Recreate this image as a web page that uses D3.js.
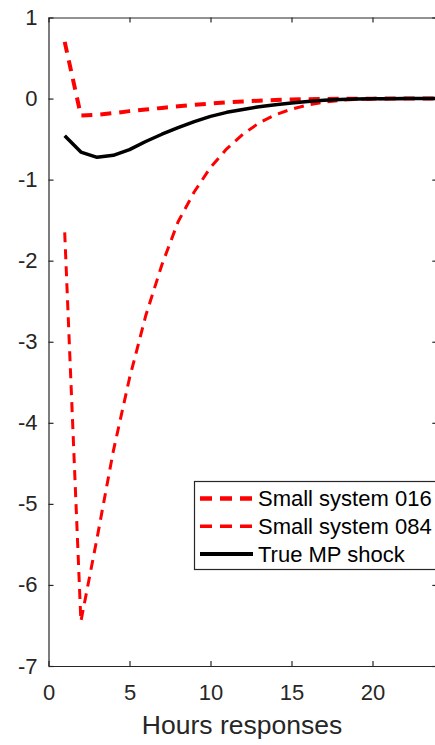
<!DOCTYPE html>
<html>
<head>
<meta charset="utf-8">
<script src="https://cdn.jsdelivr.net/npm/d3@7"></script>
<style>
  body { margin: 0; background: #fff; }
  svg { display: block; font-family: "Liberation Sans", Arial, sans-serif; }
  .axis path, .axis line { stroke: #262626; stroke-width: 1.2; }
  .axis text { fill: #262626; font-size: 22px; }
</style>
</head>
<body>
<svg width="435" height="745"></svg>
<script>
// hours after the shock
const hours = d3.range(1, 25);

// impulse responses
const small016 = [0.70, -0.21, -0.20, -0.18, -0.155, -0.135, -0.115, -0.095, -0.078, -0.062,
  -0.048, -0.036, -0.026, -0.018, -0.012, -0.008, -0.005, -0.003, -0.002, -0.001, 0, 0, 0, 0];
const small084 = [-1.65, -6.45, -5.42, -4.35, -3.45, -2.68, -2.05, -1.52, -1.15, -0.85,
  -0.62, -0.44, -0.30, -0.20, -0.13, -0.08, -0.045, -0.022, -0.01, -0.004, -0.002, -0.001, 0, 0];
const trueShock = [-0.46, -0.66, -0.725, -0.70, -0.63, -0.53, -0.44, -0.36, -0.285, -0.22,
  -0.17, -0.135, -0.10, -0.075, -0.055, -0.035, -0.022, -0.012, -0.006, -0.003, -0.001, 0, 0, 0];

const xTicks = [0, 5, 10, 15, 20];
const yTicks = [1, 0, -1, -2, -3, -4, -5, -6, -7];

const series = [
  { name: "Small system 016", values: small016, color: "#ff0000", width: 4, dash: "11,8" },
  { name: "Small system 084", values: small084, color: "#ff0000", width: 3, dash: "10,7" },
  { name: "True MP shock", values: trueShock, color: "#000000", width: 3.5, dash: null }
];

const margin = { left: 48.5, top: 17.5, right: 435, bottom: 666 };

const svg = d3.select("svg");

const x = d3.scaleLinear().domain([0, 24]).range([margin.left, 437.3]);
const y = d3.scaleLinear().domain([-7, 1]).range([margin.bottom, margin.top]);

// plain hyphen minus like the original
const fmt = d => String(d);

// axes, ticks pointing inward
svg.append("g")
  .attr("class", "axis")
  .attr("transform", `translate(0,${margin.bottom})`)
  .call(d3.axisBottom(x).tickValues(xTicks).tickFormat(fmt).tickSizeInner(-5).tickSizeOuter(0).tickPadding(18))
  .call(g => g.selectAll("text").attr("font-size", 22));

svg.append("g")
  .attr("class", "axis")
  .attr("transform", `translate(0,${margin.top})`)
  .call(d3.axisTop(x).tickValues(xTicks).tickSizeInner(-5).tickSizeOuter(0).tickFormat(""));

svg.append("g")
  .attr("class", "axis")
  .attr("transform", `translate(${margin.left},0)`)
  .call(d3.axisLeft(y).tickValues(yTicks).tickFormat(fmt).tickSizeInner(-5).tickSizeOuter(0).tickPadding(11))
  .call(g => g.selectAll("text").attr("font-size", 22));

svg.append("g")
  .attr("class", "axis")
  .attr("transform", `translate(${x(24)},0)`)
  .call(d3.axisRight(y).tickValues(yTicks).tickSizeInner(-5).tickSizeOuter(0).tickFormat(""));

svg.selectAll("g.axis text").attr("font-family", "Liberation Sans, Arial, sans-serif");

// x label
svg.append("text")
  .attr("x", 242)
  .attr("y", 734)
  .attr("text-anchor", "middle")
  .attr("font-size", 26.5)
  .attr("fill", "#262626")
  .text("Hours responses");

// the response lines
const line = d3.line()
  .x((d, i) => x(hours[i]))
  .y(d => y(d));

svg.append("g")
  .selectAll("path")
  .data(series)
  .join("path")
  .attr("d", d => line(d.values))
  .attr("fill", "none")
  .attr("stroke", d => d.color)
  .attr("stroke-width", d => d.width)
  .attr("stroke-dasharray", d => d.dash)
  .attr("stroke-linejoin", "round");

// legend box
const legend = svg.append("g").attr("transform", "translate(194,481)");

legend.append("rect")
  .attr("x", 0.5)
  .attr("y", 0.5)
  .attr("width", 260)
  .attr("height", 88)
  .attr("fill", "#fff")
  .attr("stroke", "#262626")
  .attr("stroke-width", 1.2);

const rows = legend.selectAll("g.row")
  .data(series)
  .join("g")
  .attr("class", "row")
  .attr("transform", (d, i) => `translate(0,${17.5 + i * 27.8})`);

rows.append("line")
  .attr("x1", 6)
  .attr("x2", 59)
  .attr("stroke", d => d.color)
  .attr("stroke-width", d => d.width + 0.5)
  .attr("stroke-dasharray", d => d.dash ? "12,8" : null);

rows.append("text")
  .attr("x", 64)
  .attr("dy", "0.36em")
  .attr("font-size", 22)
  .attr("fill", "#000")
  .text(d => d.name);
</script>
</body>
</html>
